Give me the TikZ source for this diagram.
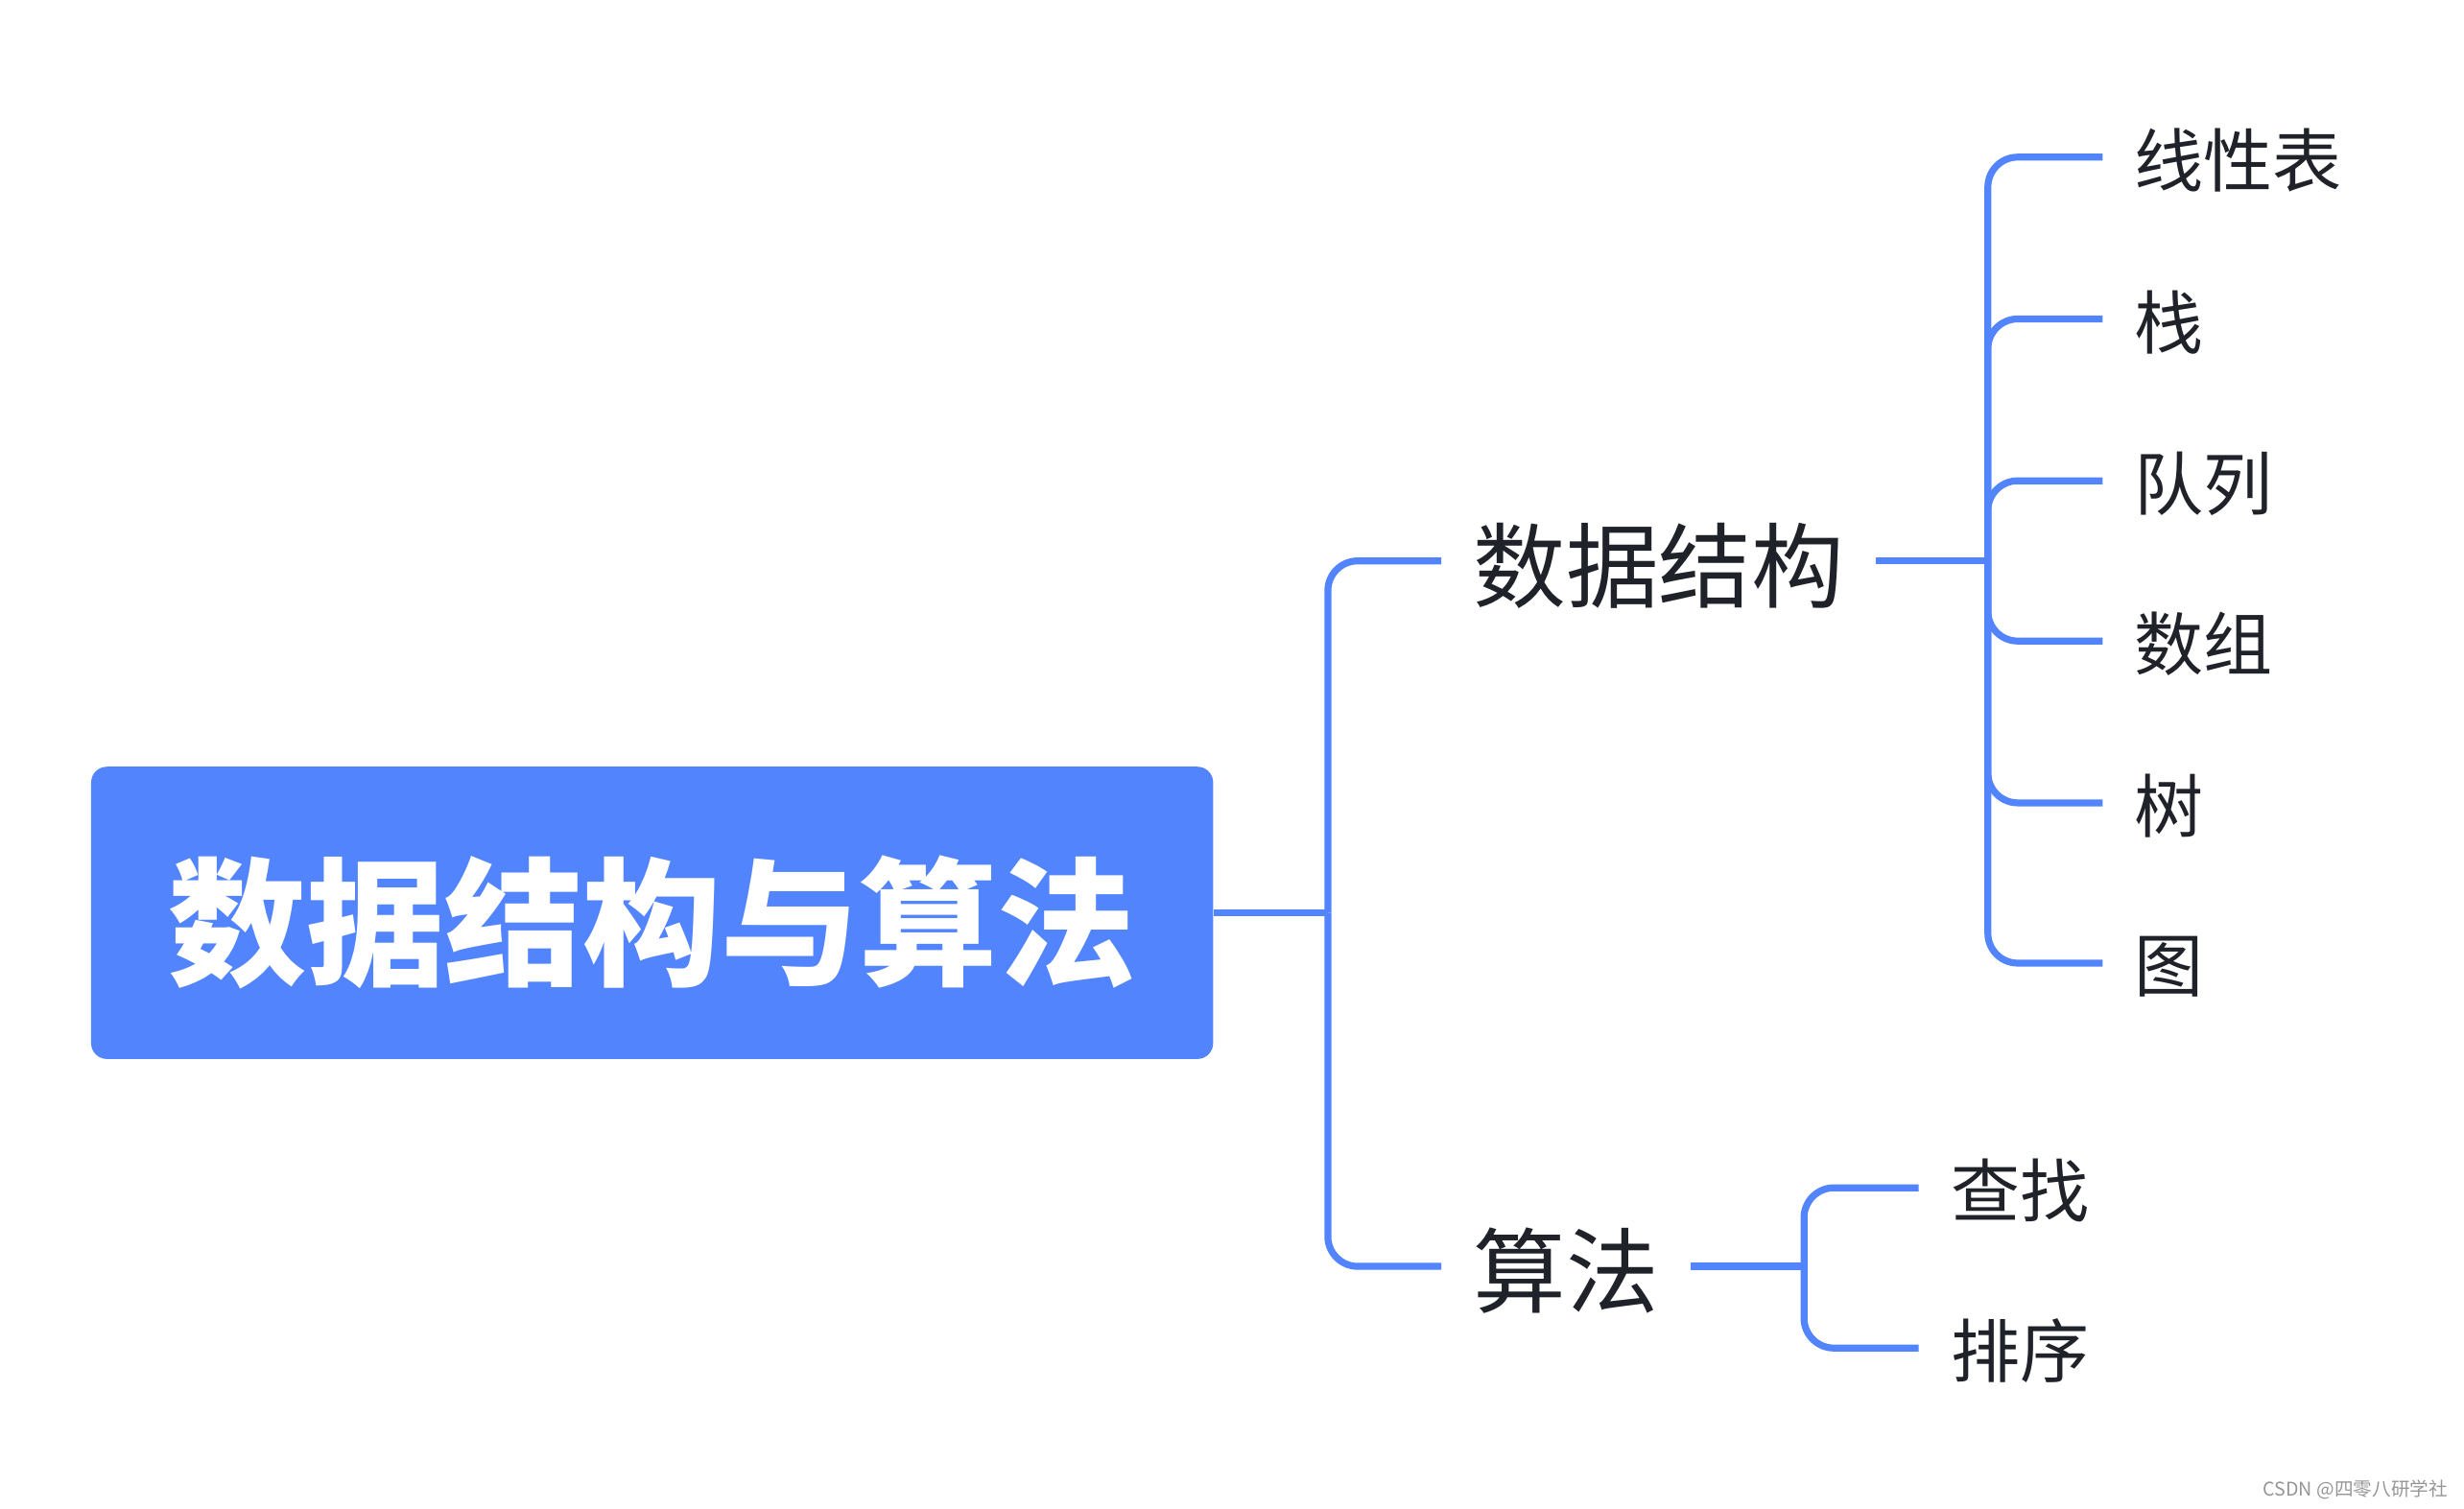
\documentclass[tikz,border=0pt]{standalone}
\usepackage{fontspec}
\setmainfont{Noto Sans CJK SC}
\definecolor{mmblue}{RGB}{81,132,253}
\definecolor{mmtext}{RGB}{31,35,41}
\definecolor{wmgray}{RGB}{150,150,150}
\newcommand\mmlow[2]{\raisebox{-#1}[\height][\depth]{#2}}
\begin{document}
\begin{tikzpicture}[x=0.5pt,y=-0.5pt,
  conn/.style={draw=mmblue,line width=2.2pt},
  branch/.style={conn,rounded corners=9.5pt},
  rootbox/.style={fill=mmblue,rounded corners=5pt,minimum width=357pt,minimum height=93pt,text=white,font=\bfseries\fontsize{44}{44}\selectfont,inner sep=0pt},
  lvone/.style={text=mmtext,font=\fontsize{29.5}{30}\selectfont,inner xsep=10pt,inner ysep=0pt},
  lvtwo/.style={text=mmtext,font=\fontsize{22}{22}\selectfont,inner xsep=10pt,inner ysep=0pt,anchor=west},
]
\useasboundingbox (0,0) rectangle (1568,960);
\node[rootbox] (root) at (415,581) {\mmlow{3pt}{数据结构与算法}};
\node[lvone] (ds) at (1055.5,357) {\mmlow{1.5pt}{数据结构}};
\node[lvone] (alg) at (996.5,806) {\mmlow{1.5pt}{算法}};
\node[lvtwo] (l1) at (1338,100) {\mmlow{1pt}{线性表}};
\node[lvtwo] (l2) at (1338,203) {\mmlow{1pt}{栈}};
\node[lvtwo] (l3) at (1338,306) {\mmlow{1pt}{队列}};
\node[lvtwo] (l4) at (1338,408) {\mmlow{1pt}{数组}};
\node[lvtwo] (l5) at (1338,511) {\mmlow{1pt}{树}};
\node[lvtwo] (l6) at (1338,613) {\mmlow{1pt}{图}};
\node[lvtwo] (a1) at (1221,756) {\mmlow{1pt}{查找}};
\node[lvtwo] (a2) at (1221,858) {\mmlow{1pt}{排序}};
\coordinate (t0) at (845,581);
\coordinate (t1) at (1265,357);
\coordinate (t2) at (1148,806);
\draw[conn] (root.east) -- (t0);
\draw[branch] (t0) |- (ds.west);
\draw[branch] (t0) |- (alg.west);
\draw[conn] (ds.east) -- (t1);
\foreach \n in {l1,l2,l3,l4,l5,l6} {\draw[branch] (t1) |- (\n.west);}
\draw[conn] (alg.east) -- (t2);
\foreach \n in {a1,a2} {\draw[branch] (t2) |- (\n.west);}
\node[anchor=east,text=wmgray,font=\fontsize{6}{6}\selectfont,inner sep=0pt] (wm) at (1558,948) {CSDN @四零八研学社};
\end{tikzpicture}
\end{document}
